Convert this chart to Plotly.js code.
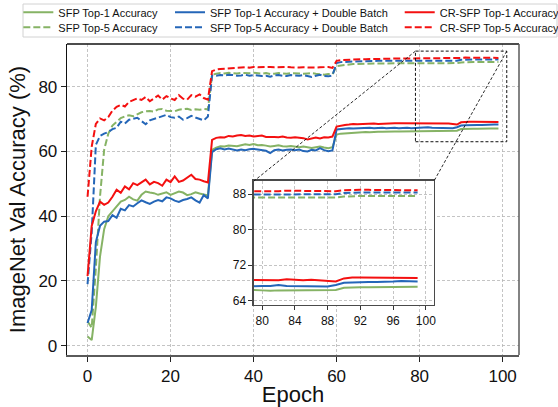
<!DOCTYPE html>
<html>
<head>
<meta charset="utf-8">
<script src="https://cdn.plot.ly/plotly-3.0.1.min.js"></script>
<style>html,body{margin:0;padding:0;background:#fff;}#chart{width:558px;height:407px;}</style>
</head>
<body>
<div id="chart"></div>
<script>
const epochs = [0,1,2,3,4,5,6,7,8,9,10,11,12,13,14,15,16,17,18,19,20,21,22,23,24,25,26,27,28,29,30,31,32,33,34,35,36,37,38,39,40,41,42,43,44,45,46,47,48,49,50,51,52,53,54,55,56,57,58,59,60,61,62,63,64,65,66,67,68,69,70,71,72,73,74,75,76,77,78,79,80,81,82,83,84,85,86,87,88,89,90,91,92,93,94,95,96,97,98,99];

const sfpTop1 = [2.8,1.7,12.0,27.5,36.0,40.0,41.5,43.0,44.5,45.0,46.0,45.2,44.8,46.6,47.6,47.3,47.1,46.6,46.9,47.4,46.6,47.2,47.6,47.3,46.5,46.8,47.4,47.0,46.6,46.4,
  60.5,61.2,61.6,61.5,61.8,61.7,61.6,61.9,62.2,62.0,62.3,61.9,62.0,61.8,61.5,61.7,61.9,61.6,61.5,61.7,61.6,61.3,61.5,61.4,61.1,61.3,61.5,61.2,61.0,61.3,
  65.2,65.5,65.6,65.8,65.9,65.9,66.0,66.0,65.9,66.1,66.1,66.1,66.2,66.1,66.2,66.2,66.2,66.3,66.3,66.4,66.3,66.2,66.3,66.3,66.3,66.3,66.4,66.4,66.4,66.4,
  66.9,67.0,67.0,67.0,67.0,67.1,67.1,67.1,67.1,67.1];

const sfpTop5 = [7.5,5.5,24.0,46.0,60.5,65.5,68.0,69.3,70.3,70.8,71.2,70.9,71.6,72.1,72.4,72.5,72.3,73.0,73.1,72.6,72.5,72.4,72.9,73.0,73.2,72.8,73.0,72.9,73.1,73.0,
  83.7,84.0,84.2,84.1,84.3,84.2,84.1,84.3,84.2,84.2,84.3,84.1,84.0,84.2,83.9,84.0,84.2,84.1,84.0,84.2,84.1,83.9,84.0,84.1,84.2,84.0,83.8,83.7,83.9,83.8,
  86.4,86.6,86.8,86.9,87.0,87.0,87.1,87.1,87.1,87.2,87.2,87.2,87.2,87.2,87.3,87.2,87.3,87.3,87.3,87.25,87.25,87.2,87.25,87.3,87.25,87.3,87.25,87.3,87.3,87.3,
  87.5,87.6,87.6,87.6,87.6,87.6,87.6,87.6,87.6,87.6];

const dbTop1 = [7.0,11.0,32.0,37.0,38.3,38.5,40.3,39.5,42.3,41.8,43.4,43.0,44.0,44.9,44.3,43.8,44.5,45.0,44.6,45.8,45.5,44.8,44.4,45.0,45.3,45.8,44.9,44.2,46.5,45.5,
  59.8,60.7,61.0,60.6,60.9,60.5,60.3,60.6,60.4,60.7,60.8,60.6,60.5,60.2,59.5,60.4,60.6,60.3,60.5,60.6,60.4,60.6,60.1,60.0,60.5,60.3,61.0,60.4,60.1,60.3,
  66.8,67.0,67.1,67.2,67.1,67.2,67.3,67.2,67.3,67.2,67.3,67.3,67.2,67.3,67.3,67.2,67.3,67.3,67.2,67.3,67.3,67.3,67.5,67.3,67.3,67.3,67.2,67.3,67.2,67.5,
  68.0,68.1,68.2,68.2,68.2,68.2,68.3,68.4,68.3,68.3];

const dbTop5 = [19.0,35.0,62.0,64.8,65.5,66.0,66.9,67.3,69.2,68.6,69.8,70.0,70.4,69.4,68.4,69.6,70.0,70.4,70.9,71.3,70.6,70.4,70.8,69.8,70.3,71.0,70.5,70.1,69.6,70.8,
  83.5,83.4,83.6,83.5,83.7,83.6,83.4,83.5,83.7,83.4,83.6,83.5,83.3,83.4,83.1,83.5,83.6,83.4,83.3,83.6,83.5,83.4,83.6,83.2,83.0,83.4,83.7,83.3,83.2,83.5,
  87.3,87.6,87.7,87.8,87.8,87.9,87.9,87.9,88.0,87.9,88.0,88.0,88.0,88.0,88.0,88.0,88.0,88.0,88.0,88.0,88.0,87.9,88.0,88.0,88.0,87.9,88.0,88.0,87.9,88.0,
  88.3,88.4,88.4,88.4,88.4,88.4,88.4,88.4,88.4,88.4];

const crTop1 = [21.5,37.0,41.5,44.5,43.5,44.2,46.0,48.2,47.2,49.2,48.3,50.2,49.6,50.4,51.3,49.8,50.6,50.2,49.4,51.3,50.5,52.3,50.6,51.0,51.8,52.8,51.5,51.3,50.8,50.4,
  63.6,64.2,64.4,64.3,64.8,64.6,64.9,65.1,64.8,64.9,64.6,64.7,64.9,64.5,64.6,64.5,64.4,64.6,64.3,64.2,64.4,64.3,64.1,63.7,64.1,64.3,64.0,64.4,64.3,64.6,
  67.7,68.0,68.2,68.3,68.5,68.4,68.5,68.5,68.6,68.6,68.5,68.6,68.7,68.6,68.7,68.7,68.7,68.6,68.7,68.7,68.7,68.6,68.6,68.8,68.7,68.6,68.7,68.6,68.5,68.3,
  69.0,69.2,69.2,69.2,69.2,69.2,69.2,69.2,69.1,69.1];

const crTop5 = [46.0,61.5,68.5,70.2,69.6,70.6,72.6,73.8,74.4,73.9,75.3,75.8,76.4,75.9,76.8,75.5,76.5,77.3,76.0,77.1,76.4,75.9,77.4,76.3,76.0,77.4,76.9,77.6,76.5,76.0,
  84.8,85.3,85.5,85.6,85.7,85.8,85.9,85.9,86.0,85.9,86.1,86.0,86.1,86.0,86.1,86.0,86.1,86.0,86.1,86.0,85.9,85.9,86.0,85.9,85.8,85.9,86.0,86.0,86.1,85.8,
  88.0,88.2,88.3,88.4,88.4,88.5,88.5,88.5,88.6,88.6,88.6,88.6,88.7,88.6,88.7,88.7,88.7,88.7,88.7,88.7,88.7,88.7,88.7,88.8,88.8,88.8,88.7,88.8,88.7,88.7,
  88.9,89.0,89.0,89.0,89.0,89.0,89.0,89.0,89.0,88.9];

const seriesNames = ['SFP Top-1 Accuracy','SFP Top-5 Accuracy','SFP Top-1 Accuracy + Double Batch','SFP Top-5 Accuracy + Double Batch','CR-SFP Top-1 Accuracy','CR-SFP Top-5 Accuracy'];
const mainXTicks = [0,20,40,60,80,100];
const mainYTicks = [0,20,40,60,80];
const insetXTicks = [80,84,88,92,96,100];
const insetYTicks = [64,72,80,88];
const zoomX = [79,101];
const zoomY = [63,91];

const GREEN = '#86b365', BLUE = '#2466b8', RED = '#f41010';
const FONT = 'Liberation Sans, Arial, Helvetica, sans-serif';
const DASH = '7px,3px';

const mainXRange = [-4.95,103.95];
const mainYRange = [-2.9,93.2];
const insetDomX = [0.4137,0.8119];
const insetDomY = [0.1608,0.5595];

const defs = [
  {y: sfpTop1, name: seriesNames[0], color: GREEN, dash: 'solid', legend: 'legend'},
  {y: sfpTop5, name: seriesNames[1], color: GREEN, dash: DASH, legend: 'legend2'},
  {y: dbTop1, name: seriesNames[2], color: BLUE, dash: 'solid', legend: 'legend3'},
  {y: dbTop5, name: seriesNames[3], color: BLUE, dash: DASH, legend: 'legend4'},
  {y: crTop1, name: seriesNames[4], color: RED, dash: 'solid', legend: 'legend5'},
  {y: crTop5, name: seriesNames[5], color: RED, dash: DASH, legend: 'legend6'}
];

const traces = [];
defs.forEach(d => {
  traces.push({x: epochs, y: d.y, name: d.name, type: 'scatter', mode: 'lines',
    line: {color: d.color, width: 2, dash: d.dash}, xaxis: 'x', yaxis: 'y', legend: d.legend, showlegend: true});
});
defs.forEach(d => {
  traces.push({x: epochs, y: d.y, name: d.name, type: 'scatter', mode: 'lines',
    line: {color: d.color, width: 2, dash: d.dash}, xaxis: 'x2', yaxis: 'y2', showlegend: false});
});

function px(v, r){ return (v - r[0]) / (r[1] - r[0]); }

const gridStyle = {showgrid: true, gridcolor: '#b5b5b5', gridwidth: 0.8, griddash: '3px,2px', zeroline: false};

const legendBase = {bgcolor: 'rgba(0,0,0,0)', borderwidth: 0, font: {family: FONT, size: 11, color: '#111'},
  xanchor: 'left', yanchor: 'middle', itemwidth: 30, tracegroupgap: 0};
const colX = [-0.1077, 0.2279, 0.7361];
const rowY = [1.1019, 1.0537];

const layout = {
  width: 558, height: 407,
  margin: {l: 67, r: 39, t: 44, b: 52, pad: 0, autoexpand: false},
  paper_bgcolor: '#fff', plot_bgcolor: '#fff',
  font: {family: FONT, color: '#111'},
  xaxis: Object.assign({}, gridStyle, {domain: [0,1], range: mainXRange, tickvals: mainXTicks, ticks: 'outside', ticklen: 5, tickwidth: 1, tickcolor: '#222',
    tickfont: {family: FONT, size: 17, color: '#111'}, showline: true, linecolor: '#5a5a5a', linewidth: 1.5,
    title: {text: 'Epoch', font: {family: FONT, size: 22, color: '#111'}, standoff: 6}, anchor: 'y'}),
  yaxis: Object.assign({}, gridStyle, {domain: [0,1], range: mainYRange, tickvals: mainYTicks, ticks: 'outside', ticklen: 5, tickwidth: 1, tickcolor: '#222',
    tickfont: {family: FONT, size: 17, color: '#111'}, showline: true, linecolor: '#111', linewidth: 1.3,
    title: {text: 'ImageNet Val Accuracy (%)', font: {family: FONT, size: 22, color: '#111'}, standoff: 6}, anchor: 'x'}),
  xaxis2: Object.assign({}, gridStyle, {domain: insetDomX, range: zoomX, tickvals: insetXTicks, ticks: 'outside', ticklen: 4, tickwidth: 1, tickcolor: '#333',
    tickfont: {family: FONT, size: 12, color: '#111'}, showline: true, mirror: true, linecolor: '#4a4a4a', linewidth: 1.5, anchor: 'y2'}),
  yaxis2: Object.assign({}, gridStyle, {domain: insetDomY, range: zoomY, tickvals: insetYTicks, ticks: 'outside', ticklen: 4, tickwidth: 1, tickcolor: '#333',
    tickfont: {family: FONT, size: 12, color: '#111'}, showline: true, mirror: true, linecolor: '#4a4a4a', linewidth: 1.5, anchor: 'x2'}),
  legend: Object.assign({}, legendBase, {x: colX[0], y: rowY[0]}),
  legend2: Object.assign({}, legendBase, {x: colX[0], y: rowY[1]}),
  legend3: Object.assign({}, legendBase, {x: colX[1], y: rowY[0]}),
  legend4: Object.assign({}, legendBase, {x: colX[1], y: rowY[1]}),
  legend5: Object.assign({}, legendBase, {x: colX[2], y: rowY[0]}),
  legend6: Object.assign({}, legendBase, {x: colX[2], y: rowY[1]}),
  shapes: [
    {type: 'rect', xref: 'paper', yref: 'paper', x0: -0.0973, x1: 1.0841, y0: 1.0225, y1: 1.1286,
      line: {color: '#d2d2d2', width: 1}, fillcolor: 'rgba(255,255,255,0)', layer: 'above'},
    {type: 'line', xref: 'paper', yref: 'paper', x0: 0, x1: 1, y0: 1, y1: 1, line: {color: '#111', width: 1.3}},
    {type: 'line', xref: 'paper', yref: 'paper', x0: 1, x1: 1, y0: 0, y1: 1, line: {color: '#5a5a5a', width: 1.5}},
    {type: 'rect', xref: 'x', yref: 'y', x0: zoomX[0], x1: zoomX[1], y0: zoomY[0], y1: zoomY[1],
      line: {color: '#111', width: 1, dash: '3px,2px'}, layer: 'above'},
    {type: 'line', xref: 'paper', yref: 'paper', x0: px(zoomX[0], mainXRange), y0: px(zoomY[1], mainYRange), x1: insetDomX[0], y1: insetDomY[1],
      line: {color: '#111', width: 0.9, dash: '3px,2px'}, layer: 'above'},
    {type: 'line', xref: 'paper', yref: 'paper', x0: px(zoomX[1], mainXRange), y0: px(zoomY[1], mainYRange), x1: insetDomX[1], y1: insetDomY[1],
      line: {color: '#111', width: 0.9, dash: '3px,2px'}, layer: 'above'}
  ]
};

Plotly.newPlot('chart', traces, layout, {displayModeBar: false, staticPlot: true});
</script>
</body>
</html>
